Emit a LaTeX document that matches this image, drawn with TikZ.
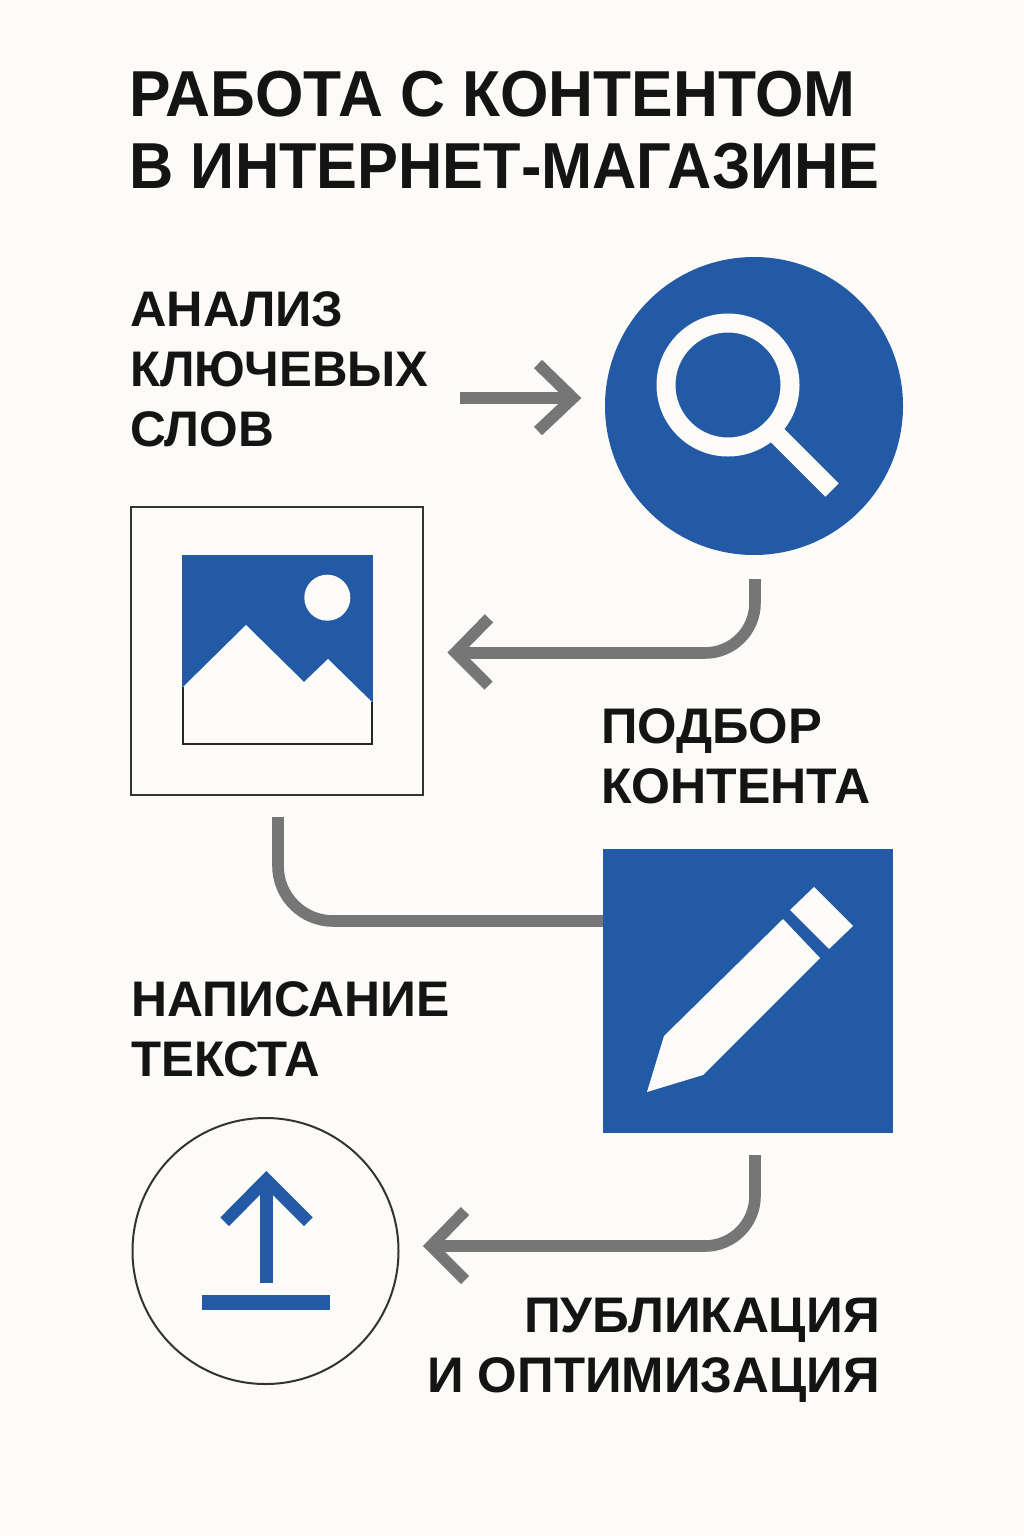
\documentclass[tikz,border=0pt]{standalone}
\usepackage{graphicx}
\usepackage{fontspec}
\setmainfont{Liberation Sans}
\usetikzlibrary{calc}
\definecolor{bg}{HTML}{FDFBF7}
\definecolor{blu}{HTML}{235AA6}
\definecolor{gry}{HTML}{767676}
\definecolor{ink}{HTML}{141414}
\definecolor{edge}{HTML}{333333}
\newcommand{\sxx}[2]{\scalebox{#1}[1]{#2}}
\tikzset{x=1pt,y=-1pt,
 head/.style={font=\fontsize{65}{65}\selectfont\bfseries,text=ink,inner sep=0,anchor=base west},
 lab/.style={font=\fontsize{50}{50}\selectfont\bfseries,text=ink,inner sep=0,anchor=base west},
 labr/.style={font=\fontsize{50}{50}\selectfont\bfseries,text=ink,inner sep=0,anchor=base east},
 conn/.style={draw=gry,line width=11.6,line join=miter},
 tipl/.style={draw=gry,line width=11.6,line join=miter}}
\begin{document}
\begin{tikzpicture}
\useasboundingbox (0,0) rectangle (1024,1536);
\fill[bg] (0,0) rectangle (1024,1536);
\node[head] (t1) at (129.5,117) {\sxx{0.958}{РАБОТА С КОНТЕНТОМ}};
\node[head] (t2) at (129.5,188) {\sxx{0.943}{В ИНТЕРНЕТ-МАГАЗИНЕ}};
\node[lab] (l1a) at (130,326) {\sxx{1.01}{АНАЛИЗ}};
\node[lab] (l1b) at (130,386) {\sxx{0.983}{КЛЮЧЕВЫХ}};
\node[lab] (l1c) at (130,446) {\sxx{0.993}{СЛОВ}};
\node[lab] (l2a) at (601,743) {\sxx{1.014}{ПОДБОР}};
\node[lab] (l2b) at (601,803) {КОНТЕНТА};
\node[lab] (l3a) at (131,1016) {\sxx{0.997}{НАПИСАНИЕ}};
\node[lab] (l3b) at (131,1076) {\sxx{0.984}{ТЕКСТА}};
\node[labr] (l4a) at (880,1332) {\sxx{1.023}{ПУБЛИКАЦИЯ}};
\node[labr] (l4b) at (880,1392) {\sxx{1.018}{И ОПТИМИЗАЦИЯ}};
% search
\node[circle,fill=blu,minimum size=298,inner sep=0] (search) at (754,406) {};
\draw[bg,line width=19] (728,385) circle (62);
\draw[bg,line width=19] (772,430) -- (832,490);
% image frame
\node[draw=edge,line width=2,minimum width=291.5,minimum height=287.5,inner sep=0] (frame) at (277.2,651.2) {};
\fill[blu] (182,555) rectangle (373,704);
\fill[bg] (182,688) -- (246,625) -- (304,682) -- (328,659) -- (373,703) -- (373,745) -- (182,745) -- cycle;
\draw[black!85,line width=2] (183,687) -- (183,744.3) -- (372,744.3) -- (372,702);
\fill[bg] (327.3,597.7) circle (23);
% pencil
\node[fill=blu,minimum width=290,minimum height=284,inner sep=0] (write) at (748,991) {};
\fill[bg] (647,1092) -- (664,1036) -- (783,919) -- (820,958) -- (703,1075) -- cycle;
\fill[bg] (790,910) -- (814,887) -- (853,926) -- (829,949) -- cycle;
% publish
\node[circle,draw=edge,line width=2,minimum size=266,inner sep=0] (pub) at (265.5,1251) {};
\fill[blu] (202.3,1295) rectangle (329.7,1310);
\draw[blu,line width=12.7] (266.3,1283) -- (266.3,1180);
\draw[blu,line width=12.3,line join=miter] (224.7,1221.8) -- (266.3,1179.7) -- (308.4,1221.8);
% connectors
\coordinate (a1) at (460,398); \coordinate (a2) at (573,398);
\draw[conn,line width=12.5] (a1) -- (a2);
\draw[tipl] (538,364) -- (573,398) -- (538,431);
\coordinate (b1) at (755,579); \coordinate (b2) at (456,653);
\draw[conn] (b1) -- (755,603) arc[start angle=0,end angle=90,radius=50] -- (b2);
\draw[tipl] (489,618.3) -- (455.5,652.5) -- (488.5,685.5);
\coordinate (c1) at (278,817);
\draw[conn] (c1) -- (278,866) arc[start angle=180,end angle=90,radius=55] -- (write.west |- 0,921);
\coordinate (d1) at (755,1155); \coordinate (d2) at (431,1246);
\draw[conn] (d1) -- (755,1196) arc[start angle=0,end angle=90,radius=50] -- (d2);
\draw[tipl] (465,1211) -- (431,1246) -- (465,1280);
\end{tikzpicture}
\end{document}
